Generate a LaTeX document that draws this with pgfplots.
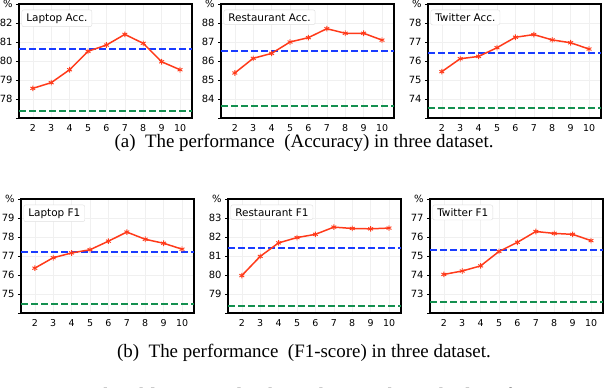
\documentclass[border=0pt]{standalone}
\usepackage{pgfplots}
\pgfplotsset{compat=1.18}
\usepackage{fontspec}
\setmainfont{Liberation Serif}
\newfontfamily\dejavu{DejaVu Sans}
\definecolor{lred}{HTML}{FF3A1A}
\definecolor{lblue}{HTML}{1A3CFF}
\definecolor{lgreen}{HTML}{149050}
\tikzset{
  titlebox/.style={draw=gray!25, fill=white, rounded corners=2pt, inner xsep=4.5pt, inner ysep=3.5pt, anchor=north west, font=\dejavu\fontsize{10.5}{11}\selectfont},
}
\pgfplotsset{
  panel/.style={
    scale only axis, width=173bp, height=114bp,
    anchor=south west,
    xmin=1.25, xmax=10.65,
    xtick={2,...,10},
    axis line style={line width=1.1pt},
    grid=major, major grid style={gray!12, line width=0.5pt},
    ticklabel style={font=\dejavu\fontsize{10}{11}\selectfont},
    xticklabel style={font=\dejavu\fontsize{9.5}{10}\selectfont},
    /pgf/number format/assume math mode=true,
    x tick style={draw=none},
    y tick style={black, line width=0.6pt},
    tick align=outside, major tick length=3bp,
    xtick pos=bottom, ytick pos=left,
    clip=false,
  },
  mainline/.style={color=lred, line width=1.5pt, mark=asterisk, mark size=2.8pt, mark options={line width=0.9pt}},
  blueline/.style={color=lblue, line width=2pt, dash pattern=on 6.5bp off 3.5bp, no marks},
  greenline/.style={color=lgreen, line width=2pt, dash pattern=on 6.5bp off 3.5bp, no marks},
}
\begin{document}
\begin{tikzpicture}
\path[use as bounding box] (0,0) rectangle (606bp,388bp);
% ---------- top row ----------
\begin{axis}[panel, at={(19bp,270bp)}, ymin=77, ymax=83, ytick={77,...,83}, yticklabels={,78,79,80,81,82,\%}]
\addplot[blueline] coordinates {(1.25,80.61) (10.65,80.61)};
\addplot[greenline] coordinates {(1.25,77.39) (10.65,77.39)};
\addplot[mainline] coordinates {(2,78.56) (3,78.86) (4,79.54) (5,80.51) (6,80.84) (7,81.40) (8,80.93) (9,79.96) (10,79.54)};
\node[titlebox] at (rel axis cs:0.015,0.95) {Laptop Acc.};
\end{axis}
\begin{axis}[panel, at={(221bp,270bp)}, ymin=83, ymax=89, ytick={83,...,89}, yticklabels={,84,85,86,87,88,\%}]
\addplot[blueline] coordinates {(1.25,86.51) (10.65,86.51)};
\addplot[greenline] coordinates {(1.25,83.65) (10.65,83.65)};
\addplot[mainline] coordinates {(2,85.37) (3,86.14) (4,86.40) (5,87.00) (6,87.23) (7,87.70) (8,87.46) (9,87.46) (10,87.10)};
\node[titlebox] at (rel axis cs:0.015,0.95) {Restaurant Acc.};
\end{axis}
\begin{axis}[panel, at={(428bp,270bp)}, ymin=73, ymax=79, ytick={73,...,79}, yticklabels={,74,75,76,77,78,\%}]
\addplot[blueline] coordinates {(1.25,76.43) (10.65,76.43)};
\addplot[greenline] coordinates {(1.25,73.55) (10.65,73.55)};
\addplot[mainline] coordinates {(2,75.44) (3,76.12) (4,76.24) (5,76.70) (6,77.25) (7,77.39) (8,77.11) (9,76.96) (10,76.63)};
\node[titlebox] at (rel axis cs:0.015,0.95) {Twitter Acc.};
\end{axis}
\node[font=\fontsize{19}{22}\selectfont, anchor=base, inner sep=0pt] at (304bp,240bp) {(a)\ \ The performance\ \ (Accuracy) in three dataset.};
% ---------- bottom row ----------
\begin{axis}[panel, at={(21bp,75bp)}, ymin=74, ymax=80, ytick={74,...,80}, yticklabels={,75,76,77,78,79,\%}]
\addplot[blueline] coordinates {(1.25,77.19) (10.65,77.19)};
\addplot[greenline] coordinates {(1.25,74.46) (10.65,74.46)};
\addplot[mainline] coordinates {(2,76.36) (3,76.91) (4,77.16) (5,77.33) (6,77.78) (7,78.26) (8,77.88) (9,77.67) (10,77.36)};
\node[titlebox] at (rel axis cs:0.015,0.95) {Laptop F1};
\end{axis}
\begin{axis}[panel, at={(228bp,75bp)}, ymin=78, ymax=84, ytick={78,...,84}, yticklabels={,79,80,81,82,83,\%}]
\addplot[blueline] coordinates {(1.25,81.43) (10.65,81.43)};
\addplot[greenline] coordinates {(1.25,78.35) (10.65,78.35)};
\addplot[mainline] coordinates {(2,79.97) (3,80.98) (4,81.69) (5,81.97) (6,82.14) (7,82.52) (8,82.45) (9,82.43) (10,82.47)};
\node[titlebox] at (rel axis cs:0.015,0.95) {Restaurant F1};
\end{axis}
\begin{axis}[panel, at={(430bp,75bp)}, ymin=72, ymax=78, ytick={72,...,78}, yticklabels={,73,74,75,76,77,\%}]
\addplot[blueline] coordinates {(1.25,75.34) (10.65,75.34)};
\addplot[greenline] coordinates {(1.25,72.57) (10.65,72.57)};
\addplot[mainline] coordinates {(2,74.03) (3,74.21) (4,74.48) (5,75.24) (6,75.72) (7,76.29) (8,76.19) (9,76.14) (10,75.81)};
\node[titlebox] at (rel axis cs:0.015,0.95) {Twitter F1};
\end{axis}
\node[font=\fontsize{19}{22}\selectfont, anchor=base, inner sep=0pt] at (304bp,31bp) {(b)\ \ The performance\ \ (F1-score) in three dataset.};
\node[font=\fontsize{22}{25}\selectfont, anchor=base west, inner sep=0pt] at (3bp,-15bp) {Figure 2: The ablation study about the weight in the loss function};
\end{tikzpicture}
\end{document}
